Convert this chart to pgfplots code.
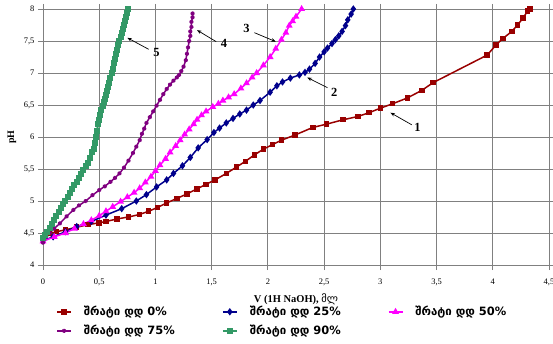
\documentclass[border=0pt]{standalone}
\usepackage{fontspec}
\setmainfont{Liberation Serif}
\newfontfamily\geofont{DejaVu Sans}
\usepackage{pgfplots}
\usepackage{pgfplotstable}
\pgfplotsset{compat=1.18}
\usetikzlibrary{arrows.meta}

\definecolor{c0}{RGB}{153,0,0}
\definecolor{c25}{RGB}{0,0,140}
\definecolor{c50}{RGB}{255,0,255}
\definecolor{c75}{RGB}{128,0,128}
\definecolor{c90}{RGB}{51,153,102}
\definecolor{gridgray}{RGB}{128,128,128}

% Titration curves: volume of 1N NaOH (ml) vs pH
\pgfplotstableread{
v pH
0 4.43
0.06 4.49
0.12 4.52
0.20 4.55
0.30 4.59
0.40 4.63
0.50 4.66
0.56 4.68
0.66 4.72
0.76 4.75
0.86 4.79
0.94 4.84
1.02 4.90
1.10 4.97
1.19 5.04
1.28 5.11
1.37 5.19
1.45 5.26
1.53 5.33
1.63 5.43
1.72 5.53
1.80 5.62
1.88 5.72
1.96 5.81
2.04 5.88
2.12 5.95
2.24 6.03
2.40 6.15
2.52 6.20
2.67 6.27
2.80 6.32
2.90 6.38
3.00 6.45
3.11 6.52
3.24 6.61
3.37 6.73
3.47 6.85
3.95 7.28
4.03 7.44
4.09 7.54
4.17 7.65
4.22 7.75
4.27 7.86
4.31 7.97
4.33 8.00
}\tblA

\pgfplotstableread{
v pH
0 4.38
0.09 4.44
0.20 4.52
0.30 4.60
0.43 4.68
0.56 4.78
0.70 4.88
0.83 5.00
0.92 5.10
1.01 5.22
1.10 5.33
1.16 5.43
1.24 5.55
1.31 5.68
1.38 5.83
1.46 5.96
1.52 6.07
1.57 6.14
1.63 6.22
1.69 6.29
1.75 6.36
1.81 6.42
1.87 6.50
1.93 6.57
2.02 6.70
2.08 6.80
2.13 6.86
2.20 6.92
2.28 6.97
2.33 7.01
2.37 7.06
2.42 7.15
2.46 7.25
2.50 7.33
2.53 7.39
2.57 7.46
2.60 7.52
2.63 7.58
2.66 7.65
2.69 7.74
2.71 7.83
2.74 7.92
2.76 8.00
}\tblB

\pgfplotstableread{
v pH
0 4.37
0.10 4.44
0.20 4.50
0.28 4.57
0.36 4.64
0.43 4.70
0.50 4.77
0.56 4.84
0.62 4.91
0.69 4.99
0.75 5.06
0.81 5.13
0.86 5.20
0.91 5.29
0.96 5.38
1.00 5.47
1.04 5.56
1.09 5.66
1.13 5.76
1.18 5.86
1.22 5.95
1.26 6.04
1.30 6.12
1.34 6.20
1.37 6.27
1.41 6.34
1.45 6.40
1.51 6.47
1.56 6.52
1.60 6.57
1.65 6.62
1.70 6.67
1.76 6.76
1.81 6.84
1.86 6.93
1.90 7.00
1.96 7.12
2.02 7.25
2.07 7.38
2.12 7.52
2.16 7.63
2.19 7.74
2.22 7.81
2.25 7.88
2.30 8.00
}\tblC

\pgfplotstableread{
v pH
0 4.35
0.06 4.50
0.10 4.57
0.15 4.65
0.21 4.76
0.27 4.86
0.32 4.93
0.38 5.00
0.44 5.09
0.50 5.17
0.55 5.23
0.60 5.30
0.64 5.36
0.68 5.43
0.72 5.52
0.76 5.63
0.80 5.75
0.83 5.85
0.86 5.95
0.88 6.05
0.90 6.13
0.92 6.22
0.95 6.31
0.98 6.40
1.01 6.49
1.04 6.58
1.07 6.67
1.10 6.75
1.13 6.82
1.16 6.88
1.19 6.93
1.21 6.97
1.23 7.03
1.25 7.10
1.27 7.20
1.28 7.30
1.29 7.40
1.30 7.50
1.31 7.58
1.31 7.65
1.32 7.72
1.32 7.80
1.33 7.87
1.33 7.93
}\tblD

\pgfplotstableread{
v pH
0 4.42
0.02 4.47
0.04 4.52
0.06 4.58
0.08 4.64
0.10 4.70
0.12 4.77
0.14 4.83
0.16 4.89
0.18 4.95
0.20 5.00
0.22 5.06
0.24 5.13
0.26 5.19
0.28 5.25
0.30 5.30
0.32 5.36
0.34 5.42
0.36 5.48
0.38 5.54
0.40 5.60
0.42 5.67
0.44 5.76
0.45 5.82
0.46 5.90
0.47 6.00
0.48 6.10
0.49 6.20
0.50 6.27
0.51 6.34
0.52 6.42
0.53 6.48
0.54 6.54
0.55 6.60
0.56 6.66
0.57 6.72
0.58 6.78
0.59 6.85
0.60 6.92
0.61 7.00
0.62 7.07
0.63 7.15
0.64 7.22
0.65 7.29
0.66 7.36
0.67 7.43
0.68 7.50
0.69 7.56
0.70 7.63
0.71 7.69
0.72 7.75
0.73 7.81
0.74 7.88
0.75 7.94
0.76 8.00
}\tblE

\newcommand{\lgd}[1]{\hspace{10bp}\makebox[136bp][l]{#1}}

\begin{document}
\begin{tikzpicture}
\begin{axis}[
  width=506bp, height=256bp, scale only axis,
  xmin=0, xmax=4.5, ymin=4, ymax=8,
  xtick={0,0.5,...,4.5}, ytick={4,4.5,...,8},
  grid=major,
  grid style={gridgray, line width=0.9bp},
  axis line style={gridgray, line width=0.9bp},
  tick style={gridgray, line width=0.9bp},
  tick align=outside, major tick length=5bp,
  /pgf/number format/assume math mode=true,
  /pgf/number format/use comma,
  ticklabel style={font=\fontsize{8.5}{9}\selectfont},
  xticklabel style={yshift=-5bp},
  xlabel={\textbf{V (1H NaOH),} {\geofont მლ}},
  xlabel style={font=\fontsize{10.5}{11}\selectfont, at={(rel axis cs:0.5,-0.135)}, anchor=center},
  ylabel={\textbf{pH}},
  ylabel style={font=\fontsize{10}{11}\selectfont, at={(rel axis cs:-0.0613,0.5)}, anchor=center},
  legend columns=3,
  legend cell align=left,
  legend image code/.code={%
    \draw[mark repeat=2, mark phase=2] plot coordinates {(0bp,0bp) (7bp,0bp) (14bp,0bp)};},
  legend style={draw=none, fill=none, at={(rel axis cs:0.02,-0.145)}, anchor=north west,
    font=\geofont\bfseries\fontsize{11.5}{13}\selectfont,
    /tikz/every even column/.append style={column sep=0bp},
    row sep=4bp},
  every axis plot/.append style={line width=1.5bp},
]
\coordinate (sw) at (rel axis cs:0,0);
\coordinate (ne) at (rel axis cs:1,1);

\addplot[c0, mark=square*, mark size=2bp] table[x=v, y=pH] {\tblA};
\addlegendentry{\lgd{შრატი დდ 0\%}}
\addplot[c25, mark=diamond*, mark size=2.5bp] table[x=v, y=pH] {\tblB};
\addlegendentry{\lgd{შრატი დდ 25\%}}
\addplot[c50, mark=triangle*, mark size=2.5bp] table[x=v, y=pH] {\tblC};
\addlegendentry{\lgd{შრატი დდ 50\%}}
\addplot[c75, mark=asterisk, mark size=2bp] table[x=v, y=pH] {\tblD};
\addlegendentry{\lgd{შრატი დდ 75\%}}
\addplot[c90, mark=square*, mark size=2bp, line width=2bp] table[x=v, y=pH] {\tblE};
\addlegendentry{\lgd{შრატი დდ 90\%}}

% curve numbers with leader arrows
\begin{scope}[font=\bfseries\fontsize{12.5}{13}\selectfont, line width=0.7bp]
\draw[-{Stealth[length=4.5bp,width=3.5bp]}] (axis cs:0.94,7.37) -- (axis cs:0.75,7.55);
\node at (axis cs:1.01,7.32) {5};
\draw[-{Stealth[length=4.5bp,width=3.5bp]}] (axis cs:1.54,7.49) -- (axis cs:1.37,7.67);
\node at (axis cs:1.61,7.46) {4};
\draw[-{Stealth[length=4.5bp,width=3.5bp]}] (axis cs:1.88,7.63) -- (axis cs:2.07,7.49);
\node at (axis cs:1.81,7.70) {3};
\draw[-{Stealth[length=4.5bp,width=3.5bp]}] (axis cs:2.53,6.77) -- (axis cs:2.35,6.93);
\node at (axis cs:2.59,6.70) {2};
\draw[-{Stealth[length=4.5bp,width=3.5bp]}] (axis cs:3.28,6.19) -- (axis cs:3.09,6.38);
\node at (axis cs:3.33,6.15) {1};
\end{scope}
\end{axis}
\pgfresetboundingbox
\path ([shift={(-43bp,-78bp)}]sw) rectangle ([shift={(4bp,9bp)}]ne);
\end{tikzpicture}
\end{document}
